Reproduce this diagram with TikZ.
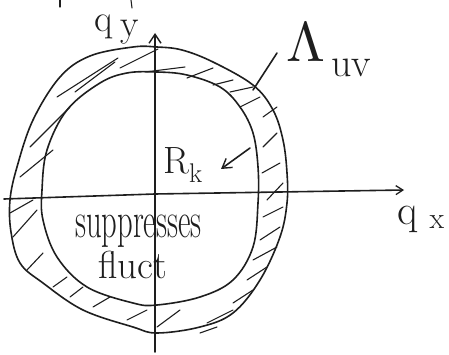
\documentclass[tikz,border=0pt]{standalone}
\usepackage{fontspec}
\usetikzlibrary{arrows.meta}
\definecolor{ink}{HTML}{1E1E1E}
\begin{document}
\begin{tikzpicture}[x=1pt,y=-1pt,
  pen/.style={line width=1.6pt, draw=ink, line cap=round, line join=round},
  hatch/.style={line width=1.1pt, draw=ink, line cap=round},
  barb/.style={-{Straight Barb[length=9pt,width=12pt,line width=1.4pt]}},
  lbl/.style={inner sep=0pt, text=ink, anchor=base west}]
\useasboundingbox (0,0) rectangle (449,355);
% axes
\coordinate (ybot) at (155,352);
\coordinate (ytop) at (155,33);
\coordinate (xl) at (4,199);
\coordinate (xr) at (404,190);
\draw[pen, barb] (ybot) -- (ytop);
\draw[pen, -{Straight Barb[length=7pt,width=9pt,line width=1.3pt]}] (xl) -- (155,194) -- (xr);
% outer boundary
\draw[pen] plot[smooth cycle, tension=0.6] coordinates {
  (157,47) (182,50) (213,62) (253,85) (273,110) (283,140) (287,173) (287,203)
  (280,237) (260,280) (233,313) (200,327) (157,333) (133,327) (83,310) (43,283)
  (20,263) (11,232) (10,200) (17,167) (33,120) (60,77) (90,56) (133,47)};
% inner boundary
\draw[pen] plot[smooth cycle, tension=0.6] coordinates {
  (157,72) (187,75) (220,87) (240,107) (253,133) (258,167) (258,203) (253,247)
  (233,280) (200,297) (157,305) (133,303) (87,287) (57,257) (43,220) (42,190)
  (47,150) (67,110) (100,83) (127,73)};
% hatching
\foreach \xa/\ya/\xb/\yb in {
  57/97/118/58, 75/92/115/62, 120/68/158/49, 30/147/70/107, 20/177/53/150,
  145/72/185/67, 187/78/213/68, 213/85/233/80, 230/92/253/87, 240/107/260/97,
  263/117/277/107, 263/147/277/133, 262/173/280/163,
  10/213/33/200, 13/237/37/210, 27/270/43/253, 53/287/67/277, 70/297/83/287,
  93/307/110/297, 127/320/147/310, 157/327/180/310,
  200/333/217/327, 207/323/233/310, 233/303/253/290, 247/280/267/267,
  253/260/277/247, 260/240/280/227, 263/217/283/207, 267/200/283/183}
  \draw[hatch] (\xa,\ya) -- (\xb,\yb);
% stray strokes at the top edge
\draw[hatch] (60,0) -- (60,7);
\draw[hatch] (131,0) -- (132,8);
% labels
\node[lbl] (qy) at (94,32) {\fontsize{38}{38}\selectfont q\hspace{8pt}\raisebox{-5pt}{y}};
\node[lbl] (qx) at (397,224) {\fontsize{42}{42}\selectfont q\hspace{12pt}\raisebox{-4pt}{\fontsize{30}{30}\selectfont x}};
\node[lbl] (lam) at (286,62) {\scalebox{5.6}{$\Lambda$}\hspace{6pt}\raisebox{-15pt}{\fontsize{40}{40}\selectfont uv}};
\node[lbl] (rk) at (163,174) {\fontsize{38}{38}\selectfont R\raisebox{-9pt}{\fontsize{27}{27}\selectfont k}};
\node[lbl] (sup) at (75,237) {\fontsize{34}{34}\selectfont\scalebox{0.9}[1.5]{suppresses}};
\node[lbl] (fl) at (98,278) {\fontsize{39}{39}\selectfont fluct};
% pointers
\coordinate (lamtip) at (253,90);
\coordinate (lamstart) at (277,53);
\draw[pen] (lamstart) -- (lamtip);
\coordinate (rkstart) at (250,148);
\coordinate (rktip) at (221,169);
\draw[pen, -{Straight Barb[length=9pt,width=11pt,line width=1.4pt]}] (rkstart) -- (rktip);
\end{tikzpicture}
\end{document}
